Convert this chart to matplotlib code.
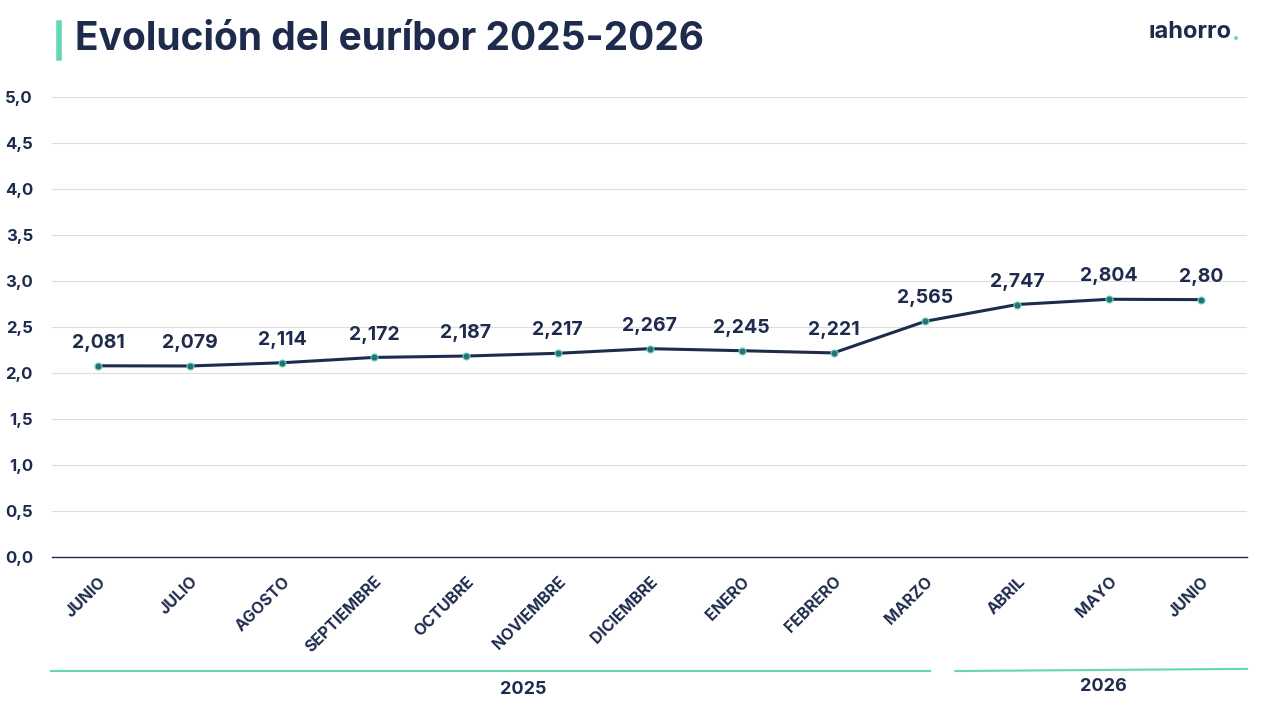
import matplotlib.pyplot as plt
from matplotlib.lines import Line2D

meses = ['JUNIO', 'JULIO', 'AGOSTO', 'SEPTIEMBRE', 'OCTUBRE', 'NOVIEMBRE', 'DICIEMBRE',
         'ENERO', 'FEBRERO', 'MARZO', 'ABRIL', 'MAYO', 'JUNIO']
valores = [2.081, 2.079, 2.114, 2.172, 2.187, 2.217, 2.267, 2.245, 2.221, 2.565, 2.747, 2.804, 2.80]
etiquetas = ['2,081', '2,079', '2,114', '2,172', '2,187', '2,217', '2,267', '2,245', '2,221',
             '2,565', '2,747', '2,804', '2,80']
yticks = [0, 0.5, 1, 1.5, 2, 2.5, 3, 3.5, 4, 4.5, 5]

navy = '#1e2b4d'
teal = '#63d6b8'
plt.rcParams['font.family'] = ['Inter', 'DejaVu Sans']
plt.rcParams['font.weight'] = 'bold'

fig = plt.figure(figsize=(12.79, 7.2), dpi=100)
ax = fig.add_axes([0.041, 0.226, 0.934, 0.639])
x = list(range(len(valores)))
ax.plot(x, valores, color=navy, lw=2.2, marker='o', ms=5,
        markerfacecolor='#2a6f73', markeredgecolor=teal, markeredgewidth=0.8, zorder=3)
for xi, v, t in zip(x, valores, etiquetas):
    ax.annotate(t, (xi, v), xytext=(0, 10), textcoords='offset points', ha='center',
                va='bottom', fontsize=14, fontweight='bold', color=navy)

ax.set_xlim(-0.5, 12.5)
ax.set_ylim(0, 5)
ax.set_yticks(yticks)
ax.set_yticklabels([f'{t:.1f}'.replace('.', ',') for t in yticks], fontsize=12,
                   fontweight='bold', color=navy)
ax.set_xticks(x)
ax.set_xticklabels(meses, rotation=45, ha='right', rotation_mode='anchor', fontsize=11.5,
                   fontweight='bold', color=navy)
ax.tick_params(length=0, pad=12)
ax.tick_params(axis='y', pad=14)
ax.grid(axis='y', color='#dddddd', lw=0.8)
ax.set_axisbelow(True)
for s in ['top', 'right', 'left']:
    ax.spines[s].set_visible(False)
ax.spines['bottom'].set_color(navy)
ax.spines['bottom'].set_linewidth(1)

# bandas de año
fig.add_artist(Line2D([0.040, 0.727], [0.068, 0.068], color=teal, lw=1.5))
fig.add_artist(Line2D([0.747, 0.975], [0.068, 0.071], color=teal, lw=1.5))
fig.text(0.409, 0.043, '2025', ha='center', va='center', fontsize=13, fontweight='bold', color=navy)
fig.text(0.863, 0.046, '2026', ha='center', va='center', fontsize=13, fontweight='bold', color=navy)

# titulo
fig.add_artist(Line2D([0.046, 0.046], [0.920, 0.968], color=teal, lw=4))
fig.text(0.059, 0.945, 'Evolución del euríbor 2025-2026', ha='left', va='center',
         fontsize=28, fontweight='bold', color=navy)
fig.text(0.963, 0.955, 'ıahorro', ha='right', va='center', fontsize=17, fontweight='bold', color=navy)
fig.text(0.963, 0.953, '.', ha='left', va='center', fontsize=17, fontweight='bold', color=teal)

fig.savefig('out.png', dpi=100, facecolor='white')
